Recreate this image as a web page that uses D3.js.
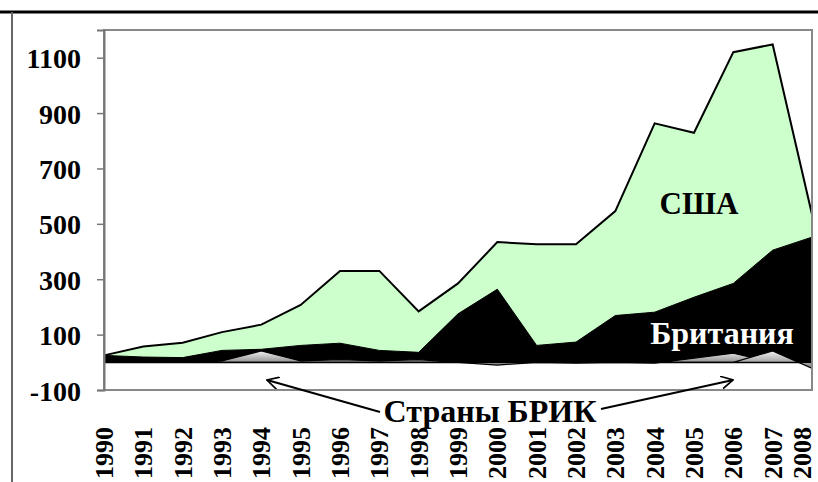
<!DOCTYPE html>
<html lang="ru">
<head>
<meta charset="UTF-8">
<title>Chart</title>
<style>
  body { margin: 0; padding: 0; background: #fff; }
  svg { display: block; }
  text { font-family: "Liberation Serif", "Times New Roman", serif; font-weight: bold; }
</style>
</head>
<body>
<script src="https://d3js.org/d3.v7.min.js"></script>
<script>
const width = 818
const height = 482

// data
const years = ['1990', '1991', '1992', '1993', '1994', '1995', '1996', '1997', '1998', '1999',
  '2000', '2001', '2002', '2003', '2004', '2005', '2006', '2007', '2008']
const usa = [25, 57, 71, 109, 136, 207, 330, 330, 184, 285, 434, 426, 426, 546, 863, 829, 1120, 1148, 534]
const britain = [25, 19, 17, 43, 47, 61, 69, 43, 36, 175, 264, 61, 73, 169, 181, 235, 285, 405, 452]
const bricA = [0, 0, 0, 5, 41, 5, 10, 5, 10, 0, -10, 0, -3, 0, -3, 15, 33, 0, 0]
const bricB = [0, 0, 0, 0, 0, 0, 0, 0, 0, 0, 0, 0, 0, 0, 0, 0, 0, 41, -22]
const yTicks = [-100, 100, 300, 500, 700, 900, 1100]

const plot = { left: 104, right: 812, top: 30, bottom: 390 }

const svg = d3.select('body').append('svg')
  .attr('width', width)
  .attr('height', height)

const defs = svg.append('defs')
const grad = defs.append('linearGradient')
  .attr('id', 'greyGrad')
  .attr('x1', 0).attr('y1', 0).attr('x2', 0).attr('y2', 1)
grad.append('stop').attr('offset', '0%').attr('stop-color', '#f2f2f2')
grad.append('stop').attr('offset', '100%').attr('stop-color', '#7a7a7a')

const marker = defs.append('marker')
  .attr('id', 'arrow')
  .attr('viewBox', '0 0 12 12')
  .attr('refX', 11).attr('refY', 6)
  .attr('markerWidth', 13).attr('markerHeight', 13)
  .attr('markerUnits', 'userSpaceOnUse')
  .attr('orient', 'auto')
marker.append('path')
  .attr('d', 'M0,0 L11,6 L0,12')
  .attr('fill', 'none')
  .attr('stroke', '#000')
  .attr('stroke-width', 1.6)

// outer frame
svg.append('line')
  .attr('x1', 0).attr('x2', width).attr('y1', 12).attr('y2', 12)
  .attr('stroke', '#000').attr('stroke-width', 3)
svg.append('line')
  .attr('x1', 12).attr('x2', 12).attr('y1', 12).attr('y2', height)
  .attr('stroke', '#666').attr('stroke-width', 2)

const x = d3.scalePoint().domain(years).range([plot.left, plot.right])
const y = d3.scaleLinear().domain([-100, 1200]).range([plot.bottom, plot.top])

const area = vals => d3.area()
  .x((d, i) => x(years[i]))
  .y0(y(0))
  .y1(d => y(d))(vals)

// series drawn overlapping, back to front
svg.append('path').attr('d', area(usa))
  .attr('fill', '#ccffcc').attr('stroke', '#000').attr('stroke-width', 2)
svg.append('path').attr('d', area(britain))
  .attr('fill', '#000').attr('stroke', '#000').attr('stroke-width', 1)
svg.append('path').attr('d', area(bricA))
  .attr('fill', 'url(#greyGrad)').attr('stroke', '#000').attr('stroke-width', 1.2)
svg.append('path').attr('d', area(bricB))
  .attr('fill', 'url(#greyGrad)').attr('stroke', '#000').attr('stroke-width', 1.2)

// plot border
svg.append('rect')
  .attr('x', plot.left).attr('y', plot.top)
  .attr('width', plot.right - plot.left).attr('height', plot.bottom - plot.top)
  .attr('fill', 'none').attr('stroke', '#888').attr('stroke-width', 2)

// y axis
const yAxis = svg.append('g')
  .attr('transform', `translate(${plot.left},0)`)
  .call(d3.axisLeft(y).tickValues(yTicks).tickSize(7).tickPadding(16)
    .tickFormat(d => String(d)))
yAxis.select('.domain').attr('stroke', '#777').attr('stroke-width', 2)
yAxis.selectAll('.tick line').attr('stroke', '#777').attr('stroke-width', 1.5)
yAxis.selectAll('.tick text')
  .attr('font-family', '"Liberation Serif", serif')
  .attr('font-weight', 'bold')
  .attr('font-size', 28)
  .attr('fill', '#000')
  .attr('dy', '0.36em')

// x labels, rotated
svg.append('g').selectAll('text')
  .data(years)
  .join('text')
  .attr('transform', d => `translate(${Math.min(x(d) + 9, 811)},427) rotate(-90)`)
  .attr('text-anchor', 'end')
  .attr('font-size', 26)
  .attr('fill', '#000')
  .text(d => d)

// labels inside the chart
svg.append('text')
  .attr('x', 699).attr('y', 214)
  .attr('text-anchor', 'middle')
  .attr('font-size', 31)
  .attr('fill', '#000')
  .text('США')
svg.append('text')
  .attr('x', 722).attr('y', 344)
  .attr('text-anchor', 'middle')
  .attr('font-size', 32)
  .attr('fill', '#fff')
  .text('Британия')

// BRIC annotation with arrows
svg.append('line')
  .attr('x1', 380).attr('y1', 412).attr('x2', 267).attr('y2', 380)
  .attr('stroke', '#000').attr('stroke-width', 2)
  .attr('marker-end', 'url(#arrow)')
svg.append('line')
  .attr('x1', 601).attr('y1', 409).attr('x2', 733).attr('y2', 380)
  .attr('stroke', '#000').attr('stroke-width', 2)
  .attr('marker-end', 'url(#arrow)')
svg.append('text')
  .attr('x', 490).attr('y', 422)
  .attr('text-anchor', 'middle')
  .attr('font-size', 32)
  .attr('fill', '#000')
  .text('Страны БРИК')
</script>
</body>
</html>
